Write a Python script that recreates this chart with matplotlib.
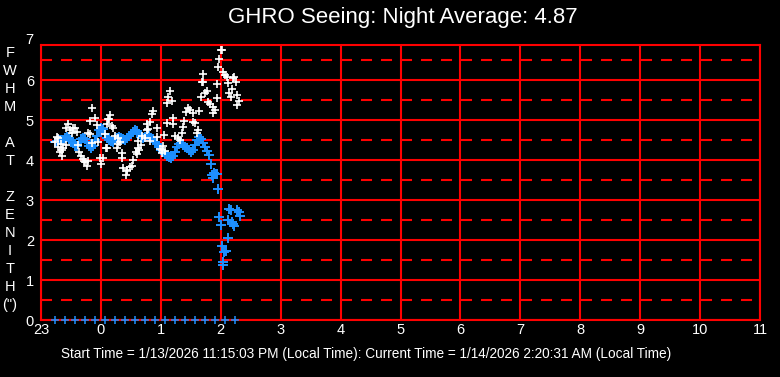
import matplotlib
matplotlib.use("Agg")
import matplotlib.pyplot as plt
import numpy as np

# minutes after 23:00 local time
blue_min = [14, 16, 18, 20, 22, 24, 26, 28, 30, 32, 34, 36, 38, 40, 42, 44, 46, 48, 50, 52,
            54, 56, 58, 60, 62, 64, 66, 68, 70, 72, 74, 76, 78, 80, 82, 84, 86, 88, 90, 92,
            94, 96, 98, 100, 102, 104, 106, 108, 110, 112, 114, 116, 118, 120, 122, 124, 126, 128, 130, 132,
            134, 136, 138, 140, 142, 144, 146, 148, 150, 152, 154, 156, 158, 160, 162, 164, 166,
            168, 170, 171, 172, 173, 175, 176, 177, 178, 180, 181, 182, 182.5, 183, 185, 187, 187, 188, 190,
            191, 192, 193, 196, 198, 199]
blue_fwhm = [4.45, 4.47, 4.50, 4.50, 4.50, 4.54, 4.58, 4.56, 4.50, 4.42, 4.35, 4.36, 4.46, 4.52, 4.56, 4.52, 4.46, 4.34, 4.30, 4.36,
             4.50, 4.60, 4.74, 4.80, 4.78, 4.66, 4.55, 4.50, 4.47, 4.46, 4.52, 4.56, 4.57, 4.56, 4.53, 4.50, 4.55, 4.60, 4.65, 4.70,
             4.75, 4.72, 4.64, 4.58, 4.55, 4.58, 4.62, 4.60, 4.56, 4.52, 4.45, 4.39, 4.33, 4.26, 4.20, 4.15, 4.10, 4.07, 4.05, 4.10,
             4.20, 4.33, 4.40, 4.42, 4.38, 4.33, 4.30, 4.25, 4.20, 4.25, 4.37, 4.50, 4.57, 4.52, 4.42, 4.33, 4.22,
             4.12, 3.90, 3.62, 3.55, 3.68, 3.64, 3.66, 3.27, 2.57, 2.37, 1.85, 1.45, 1.37, 1.70, 1.72, 2.05, 2.50, 2.78, 2.76,
             2.45, 2.40, 2.35, 2.75, 2.70, 2.60]

white_min = [14, 15.7, 17, 17, 19, 20, 21, 21, 22, 25, 25, 27, 29, 31, 32, 34, 36, 37, 38, 40,
             42, 43, 44, 46, 47, 47, 49, 49, 51, 51, 54, 56, 57, 59, 60, 62, 64, 65, 66, 66,
             67, 68, 69, 71, 72, 74, 76, 77, 77, 79, 81, 81, 82, 85, 86, 86, 89, 91, 92, 95,
             96, 97, 97, 98, 100, 101, 104, 106, 106, 107, 109, 109, 111, 112, 116, 116, 119, 121, 121, 122,
             123, 124, 126, 126, 127, 129, 131, 132, 132, 134, 137, 139, 141, 142, 143, 145, 147, 149, 152, 152,
             154, 156, 157, 158, 160, 161, 162, 162, 164, 166, 167, 169, 172, 172, 174, 176, 176, 177, 178, 180,
             181, 182, 184, 186, 187, 188, 190, 191, 192, 193, 195, 196, 196, 198]
white_fwhm = [4.46, 4.58, 4.56, 4.33, 4.21, 4.39, 4.25, 4.10, 4.29, 4.79, 4.37, 4.89, 4.75, 4.67, 4.79, 4.81, 4.71, 4.37, 4.19, 4.11,
              4.02, 3.97, 3.96, 3.86, 3.97, 4.67, 4.64, 4.98, 5.29, 4.42, 5.05, 4.88, 4.46, 4.06, 3.89, 4.06, 4.64, 4.31, 4.89, 4.29,
              5.02, 5.03, 5.12, 4.86, 4.79, 4.61, 4.31, 4.39, 4.56, 4.46, 4.17, 4.04, 3.81, 3.62, 3.72, 3.75, 3.83, 3.85, 4.00, 4.21,
              4.14, 4.31, 4.47, 4.25, 4.38, 4.61, 4.54, 4.75, 4.89, 4.77, 4.94, 4.47, 5.15, 5.22, 4.81, 4.58, 4.27, 4.25, 4.17, 4.36,
              4.62, 4.22, 4.92, 5.42, 5.58, 5.73, 5.48, 5.04, 4.90, 4.60, 4.54, 4.50, 4.67, 4.83, 4.98, 5.21, 5.29, 5.25, 5.17, 4.96,
              4.92, 4.67, 4.75, 5.23, 5.57, 5.96, 6.15, 5.96, 5.67, 5.73, 5.46, 5.40, 5.18, 5.33, 5.25, 5.89, 5.54, 6.32, 6.52, 6.76,
              6.75, 6.21, 6.12, 6.07, 5.92, 5.67, 5.57, 5.77, 6.04, 6.08, 5.96, 5.62, 5.38, 5.48]

zero_min = [14, 24, 34, 44, 54, 64, 74, 84, 94, 104, 114, 124, 134, 144, 154, 164, 174, 184, 194]

hour_labels = ['23', '0', '1', '2', '3', '4', '5', '6', '7', '8', '9', '10', '11']
ylabel_letters = ['F', 'W', 'H', 'M', '', 'A', 'T', '', 'Z', 'E', 'N', 'I', 'T', 'H', '(")']

title = 'GHRO Seeing: Night Average: 4.87'
footer = 'Start Time = 1/13/2026 11:15:03 PM (Local Time): Current Time = 1/14/2026 2:20:31 AM (Local Time)'

plt.rcParams['font.family'] = ['Liberation Sans', 'DejaVu Sans']

fig = plt.figure(figsize=(7.8, 3.77), dpi=100, facecolor='black')
ax = fig.add_axes([41 / 780, 1 - 320 / 377, 719 / 780, 275 / 377])
ax.set_facecolor('black')

def to_hours(m):
    return -1 + np.array(m) / 60.0

blue = '#1E90FF'
ax.plot(to_hours(blue_min), blue_fwhm, '+', color=blue, ms=6.5, mew=1.4, zorder=3)
ax.plot(to_hours(zero_min), np.zeros(len(zero_min)), '+', color=blue, ms=5.5, mew=1.1, zorder=3, clip_on=False)
ax.plot(to_hours(white_min), white_fwhm, '+', color='white', ms=6, mew=1.2, zorder=4)

ax.set_xlim(-1, 11)
ax.set_ylim(0, 6.875)
ax.set_xticks(range(-1, 12))
ax.set_xticklabels(hour_labels)
ax.set_yticks(range(0, 7))
ax.set_yticks(np.arange(0.5, 7, 1.0), minor=True)
ax.tick_params(which='both', length=0, colors='white', labelsize=10.5)
ax.tick_params(axis='x', pad=2)
ax.tick_params(axis='y', pad=5)
# the 7 sits just above the plot top, so it is drawn by hand
ax.text(-1.12, 7, '7', transform=ax.transData, ha='right', va='center', color='white',
        fontsize=10.5, clip_on=False)

ax.grid(which='major', color='red', linewidth=1.5, linestyle='-', zorder=1)
ax.grid(which='minor', axis='y', color='red', linewidth=1.5, linestyle=(0, (5.3, 4.3)), zorder=1)
ax.set_axisbelow(True)
for s in ax.spines.values():
    s.set_color('red')
    s.set_linewidth(1.5)

fig.text(403 / 780, 1 - 18 / 377, title, ha='center', va='center', color='white', fontsize=16)

for i, ch in enumerate(ylabel_letters):
    fig.text(10 / 780, 1 - (53 + 18 * i) / 377, ch, ha='center', va='center', color='white', fontsize=10.5)

fig.text(366 / 780, 1 - 354 / 377, footer, ha='center', va='center', color='white', fontsize=9.8)

fig.savefig('out.png', dpi=100, facecolor='black')
